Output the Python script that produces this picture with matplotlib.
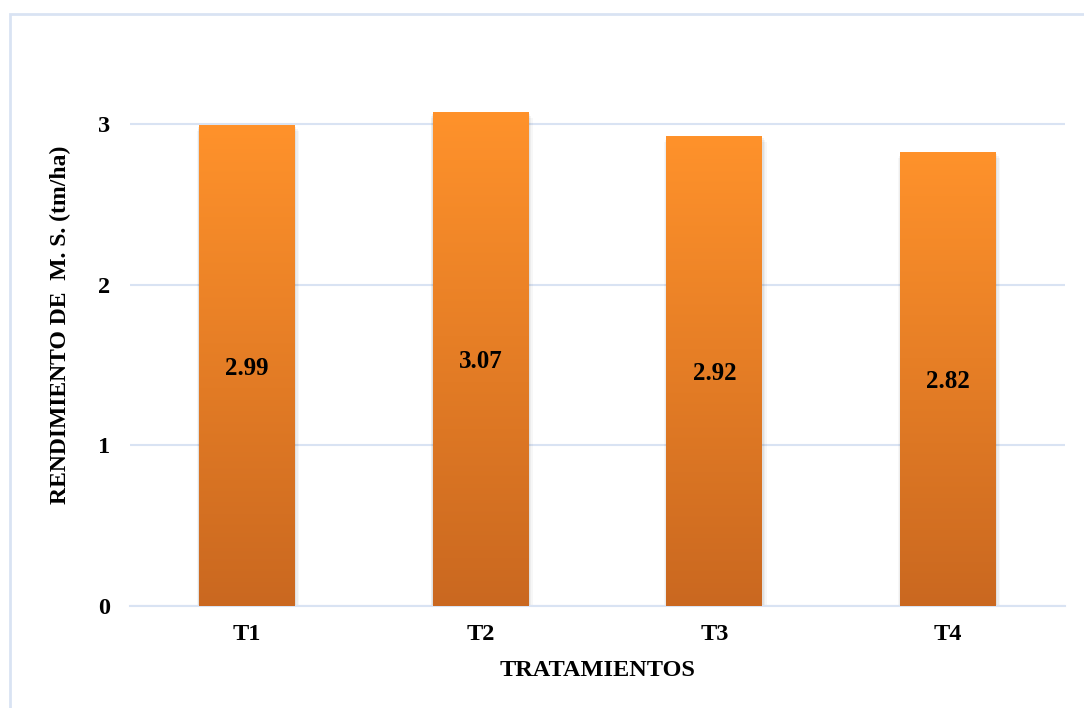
import numpy as np
import matplotlib.pyplot as plt
from matplotlib.colors import LinearSegmentedColormap
from matplotlib.patches import Rectangle

tratamientos = ['T1', 'T2', 'T3', 'T4']
rendimiento = [2.99, 3.07, 2.92, 2.82]

plt.rcParams['font.family'] = ['Liberation Serif', 'DejaVu Serif']
plt.rcParams['font.weight'] = 'bold'

grid_color = '#D9E3F3'
fill = LinearSegmentedColormap.from_list('naranja', ['#CA6820', '#FF922B'])

fig = plt.figure(figsize=(10.84, 7.08), dpi=100)
ax = fig.add_axes([0.1199, 0.1441, 0.8626, 0.7943])

# outer chart frame
fig.patches.append(Rectangle((10 / 1084, -0.05), 1.2, (708 - 14) / 708 + 0.05,
                             transform=fig.transFigure, fill=False,
                             edgecolor=grid_color, linewidth=2, zorder=0))

x = np.arange(len(tratamientos))
width = 0.41
ax.set_xlim(-0.5, len(tratamientos) - 0.5)
ax.set_ylim(0, 3.5)

gradient = np.linspace(0, 1, 256).reshape(-1, 1)
for xi, val in zip(x, rendimiento):
    # soft shadow behind each bar
    for k, a in enumerate([0.05, 0.04, 0.03]):
        off = 0.006 * (k + 1)
        ax.add_patch(Rectangle((xi - width / 2 - off * 0.5, -0.012 * (k + 1)),
                               width + off * 1.5, val + 0.005,
                               facecolor='black', alpha=a, edgecolor='none',
                               zorder=2))
    ax.imshow(gradient, cmap=fill, origin='lower', aspect='auto',
              extent=(xi - width / 2, xi + width / 2, 0, val), zorder=3)
    ax.text(xi, val / 2, f'{val:.2f}', ha='center', va='center_baseline',
            fontsize=18, fontweight='bold', color='black', zorder=4)

ax.set_yticks([0, 1, 2, 3])
ax.set_xticks(x)
ax.set_xticklabels(tratamientos)
ax.tick_params(axis='both', length=0, labelsize=17.5)
ax.tick_params(axis='y', pad=14)
ax.tick_params(axis='x', pad=13)
ax.grid(axis='y', color=grid_color, linewidth=1.5, zorder=1)
ax.set_axisbelow(True)
for side in ['top', 'right', 'left']:
    ax.spines[side].set_visible(False)
ax.spines['bottom'].set_color(grid_color)
ax.spines['bottom'].set_linewidth(1.5)

ax.set_xlabel('TRATAMIENTOS', fontsize=17.5, fontweight='bold', labelpad=11)
ax.set_ylabel('RENDIMIENTO DE  M. S. (tm/ha)', fontsize=17,
              fontweight='bold', labelpad=20)

fig.savefig('out.png', dpi=100)
